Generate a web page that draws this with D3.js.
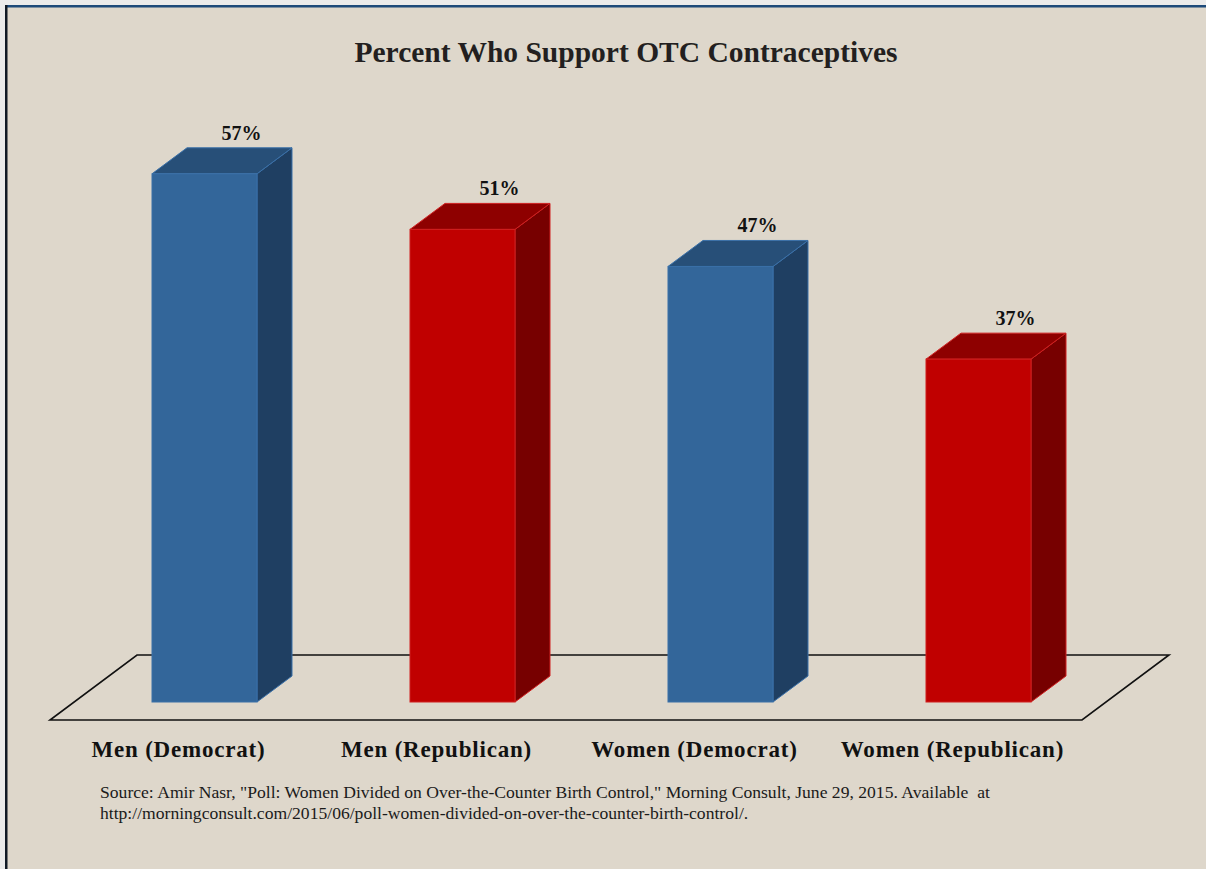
<!DOCTYPE html>
<html>
<head>
<meta charset="utf-8">
<script src="https://cdn.jsdelivr.net/npm/d3@7"></script>
<style>
  body { margin: 0; background: #ebebeb; overflow: hidden; }
  svg { display: block; }
  text { font-family: "Liberation Serif", "Times New Roman", serif; }
</style>
</head>
<body>
<div id="chart"></div>
<script>
// chart data
var categories = ["Men (Democrat)", "Men (Republican)", "Women (Democrat)", "Women (Republican)"];
var values = [57, 51, 47, 37];
var parties = ["Democrat", "Republican", "Democrat", "Republican"];
var valueLabels = ["57%", "51%", "47%", "37%"];

var width = 1206, height = 869;
var depthX = 35, depthY = 26;

var colors = {
  "Democrat": { front: "#33669a", top: "#274f78", side: "#1f3f62", edge: "#3a70a8" },
  "Republican": { front: "#c00000", top: "#8e0000", side: "#770000", edge: "#cf2020" }
};

var svg = d3.select("#chart")
  .append("svg")
  .attr("width", width)
  .attr("height", height);

// frame
svg.append("rect").attr("x", 0).attr("y", 0).attr("width", width).attr("height", height).attr("fill", "#ebebeb");
svg.append("rect").attr("x", 5).attr("y", 5).attr("width", width - 5).attr("height", height - 5).attr("fill", "#ded7cb");
svg.append("rect").attr("x", 5).attr("y", 5).attr("width", width - 5).attr("height", 2.5).attr("fill", "#1d4a7a");
svg.append("rect").attr("x", 5).attr("y", 5).attr("width", 2.5).attr("height", height - 5).attr("fill", "#111a26");

var x = d3.scaleBand()
  .domain(categories)
  .range([152, 1031])
  .paddingInner(0.593)
  .paddingOuter(0);

var y = d3.scaleLinear()
  .domain([0, 60])
  .range([702, 146]);

// title
svg.append("text")
  .attr("x", 626)
  .attr("y", 62)
  .attr("text-anchor", "middle")
  .attr("font-size", 29.5)
  .attr("font-weight", "bold")
  .attr("fill", "#231f20")
  .text("Percent Who Support OTC Contraceptives");

// floor
var floorFrontY = 720, floorBackY = 655;
var floorLeft = x.range()[0] - 102, floorRight = x.range()[1] + 51;
var floorShift = 87;
svg.append("path")
  .attr("d", "M" + floorLeft + "," + floorFrontY +
    "L" + floorRight + "," + floorFrontY +
    "L" + (floorRight + floorShift) + "," + floorBackY +
    "L" + (floorLeft + floorShift) + "," + floorBackY + "Z")
  .attr("fill", "none")
  .attr("stroke", "#111")
  .attr("stroke-width", 1.6)
  .attr("stroke-linejoin", "miter");

var data = categories.map(function(c, i) {
  return { cat: c, value: values[i], party: parties[i], label: valueLabels[i] };
});

var bars = svg.selectAll(".bar")
  .data(data)
  .enter().append("g")
  .attr("class", "bar");

// side face
bars.append("path")
  .attr("d", function(d) {
    var x1 = x(d.cat) + x.bandwidth(), y0 = y(0), y1 = y(d.value);
    return "M" + x1 + "," + y0 + "L" + (x1 + depthX) + "," + (y0 - depthY) +
      "L" + (x1 + depthX) + "," + (y1 - depthY) + "L" + x1 + "," + y1 + "Z";
  })
  .attr("fill", function(d) { return colors[d.party].side; })
  .attr("stroke", function(d) { return colors[d.party].edge; })
  .attr("stroke-width", 1);

// top face
bars.append("path")
  .attr("d", function(d) {
    var x0 = x(d.cat), x1 = x0 + x.bandwidth(), y1 = y(d.value);
    return "M" + x0 + "," + y1 + "L" + (x0 + depthX) + "," + (y1 - depthY) +
      "L" + (x1 + depthX) + "," + (y1 - depthY) + "L" + x1 + "," + y1 + "Z";
  })
  .attr("fill", function(d) { return colors[d.party].top; })
  .attr("stroke", function(d) { return colors[d.party].edge; })
  .attr("stroke-width", 1);

// front face
bars.append("rect")
  .attr("x", function(d) { return x(d.cat); })
  .attr("y", function(d) { return y(d.value); })
  .attr("width", x.bandwidth())
  .attr("height", function(d) { return y(0) - y(d.value); })
  .attr("fill", function(d) { return colors[d.party].front; })
  .attr("stroke", function(d) { return colors[d.party].edge; })
  .attr("stroke-width", 1);

// value labels
bars.append("text")
  .attr("x", function(d) { return x(d.cat) + x.bandwidth() / 2 + 37; })
  .attr("y", function(d) { return y(d.value) - depthY - 8; })
  .attr("text-anchor", "middle")
  .attr("font-size", 20)
  .attr("font-weight", "bold")
  .attr("fill", "#111")
  .text(function(d) { return d.label; });

// category labels
svg.selectAll(".cat")
  .data(categories)
  .enter().append("text")
  .attr("class", "cat")
  .attr("x", function(d) { return x(d) + x.bandwidth() / 2 - 26; })
  .attr("y", 757)
  .attr("text-anchor", "middle")
  .attr("font-size", 23)
  .attr("font-weight", "bold")
  .attr("letter-spacing", 0.8)
  .attr("fill", "#111")
  .text(function(d) { return d; });

// source note
var source = [
  "Source: Amir Nasr, \"Poll: Women Divided on Over-the-Counter Birth Control,\" Morning Consult, June 29, 2015. Available  at",
  "http://morningconsult.com/2015/06/poll-women-divided-on-over-the-counter-birth-control/."
];
svg.selectAll(".source")
  .data(source)
  .enter().append("text")
  .attr("class", "source")
  .attr("x", 100)
  .attr("y", function(d, i) { return 798 + i * 21; })
  .attr("font-size", 17.6)
  .attr("fill", "#1a1a1a")
  .attr("xml:space", "preserve")
  .style("white-space", "pre")
  .text(function(d) { return d; });
</script>
</body>
</html>
